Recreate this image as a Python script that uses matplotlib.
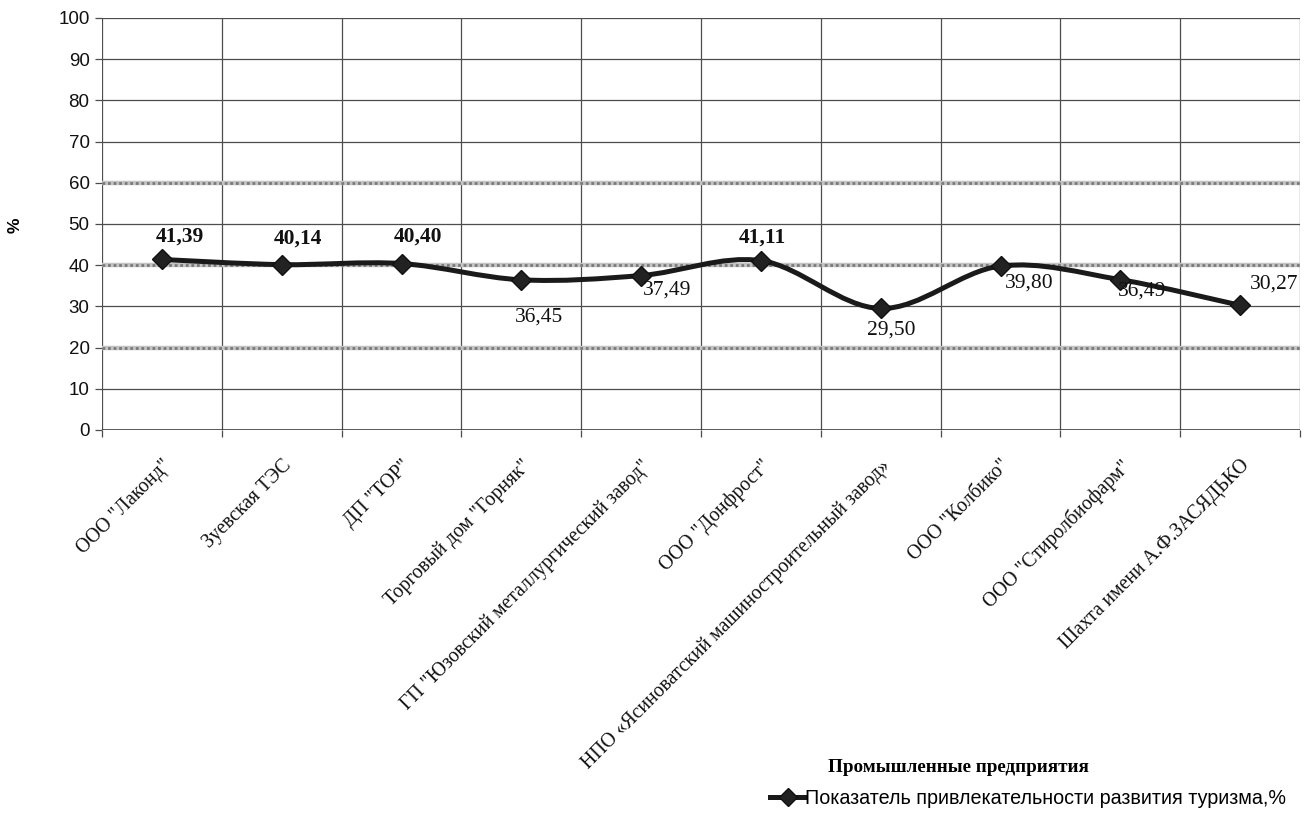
import numpy as np
import matplotlib
matplotlib.use("Agg")
import matplotlib.pyplot as plt
from matplotlib.path import Path
from matplotlib.patches import PathPatch
from matplotlib.lines import Line2D

# ---- data ----
categories = [
    'ООО "Лаконд"',
    'Зуевская ТЭС',
    'ДП "ТОР"',
    'Торговый дом "Горняк"',
    'ГП "Юзовский металлургический завод"',
    'ООО "Донфрост"',
    'НПО «Ясиноватский машиностроительный завод»',
    'ООО "Колбико"',
    'ООО "Стиролбиофарм"',
    'Шахта имени А.Ф.ЗАСЯДЬКО',
]
values = [41.39, 40.14, 40.40, 36.45, 37.49, 41.11, 29.50, 39.80, 36.49, 30.27]
series_name = "Показатель привлекательности развития туризма,%"
x_title = "Промышленные предприятия"
y_title = "%"
y_ticks = list(range(0, 101, 10))
ref_levels = [20, 40, 60]

# ---- label layout (offset in pixels from the marker, weight) ----
label_offsets = [(18, 23), (16, 26), (16, 27), (18, -37), (26, -15),
                 (1, 23), (11, -22), (29, -17), (22, -11), (34, 21)]
label_weights = ["bold", "bold", "bold", "normal", "normal",
                 "bold", "normal", "normal", "normal", "normal"]

SANS = ["Liberation Sans", "DejaVu Sans"]
SERIF = ["Liberation Serif", "DejaVu Serif"]

W, H = 1312, 819
fig = plt.figure(figsize=(W / 100, H / 100), dpi=100)
ax = fig.add_axes([102 / W, 1 - 430 / H, 1198 / W, 412 / H])

n = len(categories)
xs = np.arange(n)
ax.set_xlim(-0.5, n - 0.5)
ax.set_ylim(0, 100)

# grid: vertical lines at category boundaries, horizontal every 10
grid_col = "#4d4d4d"
for b in np.arange(-0.5, n, 1.0):
    ax.axvline(b, color=grid_col, lw=0.9, zorder=1)
for t in y_ticks:
    if t not in ref_levels:
        ax.axhline(t, color=grid_col, lw=0.9, zorder=1)
for lvl in ref_levels:
    ax.axhline(lvl, color="#c4c4c4", lw=3.2, zorder=1.5)
    ax.axhline(lvl, color="#7a7a7a", lw=2.0, ls=(0, (1.0, 1.0)), zorder=1.6)

for s in ax.spines.values():
    s.set_visible(False)
ax.axhline(0, color="#333333", lw=1.1, zorder=2)

# ticks
ax.set_yticks(y_ticks)
ax.set_yticklabels([str(t) for t in y_ticks], fontsize=13.5,
                   family=SANS, color="#111111")
ax.tick_params(axis="y", length=5, width=0.9, color=grid_col, pad=4)

ax.set_xticks(np.arange(-0.5, n, 1.0))
ax.set_xticklabels([])
ax.tick_params(axis="x", which="major", length=5, width=0.9, color=grid_col)
ax.set_xticks(xs, minor=True)
ax.set_xticklabels(categories, minor=True, rotation=45, ha="right",
                   rotation_mode="anchor", fontsize=14.2,
                   family=SERIF, color="#111111")
ax.tick_params(axis="x", which="minor", length=0, pad=19)

# smoothed line (cubic Bezier segments through the points)
px = np.concatenate([[xs[0]], xs, [xs[-1]]]).astype(float)
py = np.concatenate([[values[0]], values, [values[-1]]]).astype(float)
verts = [(xs[0], values[0])]
codes = [Path.MOVETO]
for i in range(1, n):
    p0 = np.array([px[i - 1], py[i - 1]])
    p1 = np.array([px[i], py[i]])
    p2 = np.array([px[i + 1], py[i + 1]])
    p3 = np.array([px[i + 2], py[i + 2]])
    c1 = p1 + (p2 - p0) / 6.0
    c2 = p2 - (p3 - p1) / 6.0
    verts += [tuple(c1), tuple(c2), tuple(p2)]
    codes += [Path.CURVE4] * 3
curve = Path(verts, codes)
ax.add_patch(PathPatch(curve, fill=False, edgecolor="#1a1a1a", lw=3.6,
                       capstyle="round", joinstyle="round", zorder=3))
ax.plot(xs, values, ls="none", marker="D", ms=10, color="#222222",
        mec="#111111", zorder=4)

# data labels
for x, v, (dx, dy), w in zip(xs, values, label_offsets, label_weights):
    ax.annotate(f"{v:.2f}".replace(".", ","), (x, v), xytext=(dx, dy),
                textcoords="offset pixels", ha="center", va="center",
                fontsize=15.5, fontweight=w, family=SERIF, color="#111111",
                zorder=5)

# axis titles
fig.text(15 / W, 1 - 225 / H, y_title, rotation=90, ha="center", va="center",
         fontsize=12.5, fontweight="bold", family=SANS)
fig.text(958 / W, 1 - 768 / H, x_title, ha="center", va="center",
         fontsize=13.8, fontweight="bold", family=SERIF)

# legend
handle = Line2D([], [], color="#1a1a1a", lw=3.6, marker="D", ms=9,
                mfc="#222222", mec="#111111")
fig.legend([handle], [series_name], loc="center left",
           bbox_to_anchor=(762 / W, 1 - 798 / H), frameon=False,
           handlelength=1.8, handletextpad=0.0, borderaxespad=0,
           prop={"family": SANS, "size": 14.2})

fig.savefig("out.png", dpi=100, facecolor="white")
